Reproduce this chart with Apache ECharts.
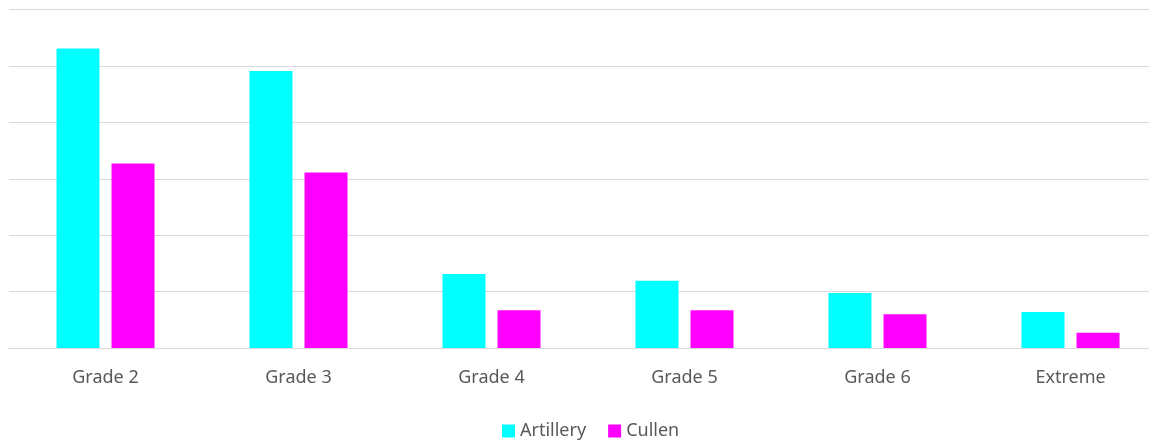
<!DOCTYPE html>
<html>
<head>
<meta charset="utf-8">
<script src="https://cdn.jsdelivr.net/npm/echarts@6/dist/echarts.min.js"></script>
<style>
  html, body { margin: 0; padding: 0; background: #fff; overflow: hidden; }
  /* the original chart is cut off on the right, so draw it a bit wider than the window */
  #chart { width: 1167px; height: 440px; }
</style>
</head>
<body>
<div id="chart"></div>
<script>
  const categories = ['Grade 2', 'Grade 3', 'Grade 4', 'Grade 5', 'Grade 6', 'Extreme']
  const artillery = [53.1, 49.1, 13.1, 11.9, 9.75, 6.4]
  const cullen = [32.7, 31.1, 6.7, 6.7, 6.0, 2.7]

  const myChart = echarts.init(document.getElementById('chart'))

  myChart.setOption({
    animation: false,
    grid: {
      left: 9,
      right: 0,
      top: 9.5,
      bottom: 92,
      containLabel: false
    },
    legend: {
      bottom: -5,
      left: 497,
      itemWidth: 13,
      itemHeight: 13,
      itemGap: 22,
      icon: 'rect',
      textStyle: {
        fontFamily: 'Noto Sans',
        fontSize: 18,
        color: '#595959'
      },
      data: ['Artillery', 'Cullen']
    },
    xAxis: {
      type: 'category',
      data: categories,
      axisTick: { show: false },
      axisLine: { lineStyle: { color: '#d9d9d9', width: 1 } },
      axisLabel: {
        margin: 21,
        fontFamily: 'Noto Sans',
        fontSize: 18,
        color: '#595959'
      }
    },
    yAxis: {
      type: 'value',
      min: 0,
      max: 60,
      interval: 10,
      axisLabel: { show: false },
      axisLine: { show: false },
      axisTick: { show: false },
      splitLine: { lineStyle: { color: '#d9d9d9', width: 1 } }
    },
    series: [
      {
        name: 'Artillery',
        type: 'bar',
        data: artillery,
        barWidth: 43,
        barGap: '28%',
        itemStyle: { color: '#00ffff' }
      },
      {
        name: 'Cullen',
        type: 'bar',
        data: cullen,
        barWidth: 43,
        barGap: '28%',
        itemStyle: { color: '#ff00ff' }
      }
    ]
  })
</script>
</body>
</html>
